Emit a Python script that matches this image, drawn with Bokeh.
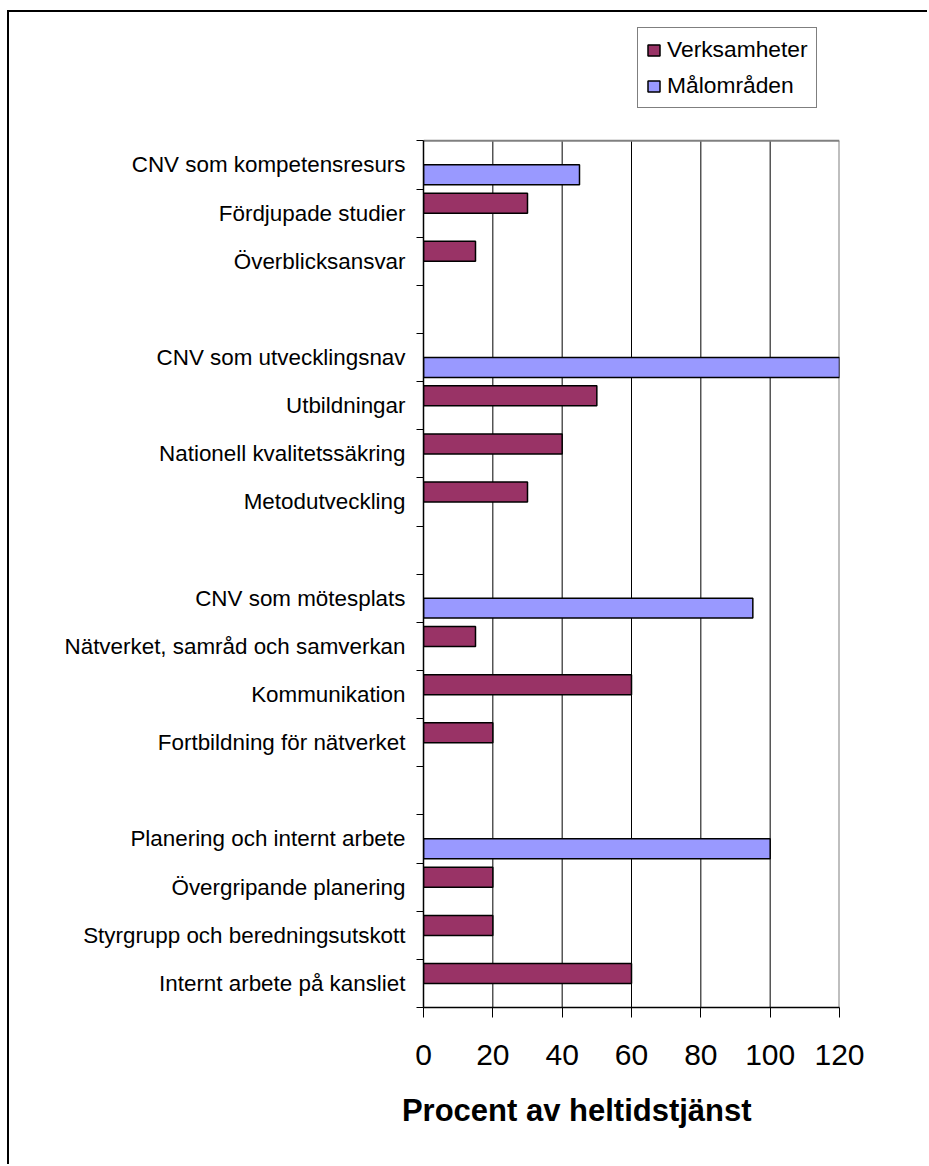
from bokeh.plotting import figure
from bokeh.models import (Range1d, FixedTicker, Legend, LegendItem, Title,
                          ColumnDataSource)
from bokeh.embed import file_html
from bokeh.resources import INLINE

# ---------------- data ----------------
categories = [
    "CNV som kompetensresurs", "Fördjupade studier", "Överblicksansvar", "",
    "CNV som utvecklingsnav", "Utbildningar", "Nationell kvalitetssäkring", "Metodutveckling", "",
    "CNV som mötesplats", "Nätverket, samråd och samverkan", "Kommunikation",
    "Fortbildning för nätverket", "",
    "Planering och internt arbete", "Övergripande planering",
    "Styrgrupp och beredningsutskott", "Internt arbete på kansliet",
]
verksamheter = [0, 30, 15, 0, 0, 50, 40, 30, 0, 0, 15, 60, 20, 0, 0, 20, 20, 60]
malomraden = [45, 0, 0, 0, 120, 0, 0, 0, 0, 95, 0, 0, 0, 0, 100, 0, 0, 0]
series_names = ["Verksamheter", "Målområden"]
series_colors = ["#993366", "#9999FF"]
x_ticks = [0, 20, 40, 60, 80, 100, 120]
x_title = "Procent av heltidstjänst"

FONT = "Liberation Sans"
n = len(categories)
ypos = [n - 1 - i for i in range(n)]
y_lo, y_hi = -0.5, n - 0.5          # extent of the category rows
x_hi = x_ticks[-1]

# extra headroom above the rows holds the legend (inside the frame)
p = figure(width=920, height=1154, title=None,
           x_range=Range1d(0, x_hi), y_range=Range1d(y_lo, y_hi + 2.5),
           output_backend="svg", toolbar_location=None,
           min_border_left=414, min_border_right=90,
           min_border_top=8, min_border_bottom=159)
p.margin = (10, 0, 0, 7)
p.styles = {"border-top": "2px solid black", "border-left": "2px solid black"}
p.background_fill_color = "white"
p.border_fill_color = "white"
p.outline_line_color = None
p.xgrid.grid_line_color = None
p.ygrid.grid_line_color = None

# vertical grid lines and plot-area border (top + right, grey)
inner = x_ticks[1:-1]
p.segment(x0=inner, y0=[y_lo] * len(inner), x1=inner, y1=[y_hi] * len(inner),
          line_color="black", line_width=1)
p.segment(x0=[0, x_hi], y0=[y_hi, y_lo], x1=[x_hi, x_hi], y1=[y_hi, y_hi],
          line_color="#808080", line_width=2)

renderers = []
for vals, off, col in [(verksamheter, 0.205, series_colors[0]),
                       (malomraden, -0.205, series_colors[1])]:
    ys = [y + off for y, v in zip(ypos, vals) if v > 0]
    xs = [v for v in vals if v > 0]
    src = ColumnDataSource(dict(y=ys, right=xs))
    r = p.hbar(y="y", left=0, right="right", height=0.415, source=src,
               fill_color=col, line_color="black", line_width=1.5)
    renderers.append(r)

# x axis
xa = p.xaxis[0]
xa.ticker = FixedTicker(ticks=x_ticks)
xa.major_label_text_font = FONT
xa.major_label_text_font_size = "30px"
xa.major_label_text_color = "black"
xa.major_tick_out = 10
xa.major_tick_in = 0
xa.minor_tick_out = 0
xa.minor_tick_in = 0
xa.major_tick_line_color = "black"
xa.axis_line_color = "black"
xa.axis_line_width = 1.5
xa.major_label_standoff = 27

# y axis: labels at centres, tick marks at category boundaries
ya = p.yaxis[0]
ya.bounds = (y_lo, y_hi)
ya.ticker = FixedTicker(ticks=ypos, minor_ticks=[k + 0.5 for k in range(-1, n)])
ya.major_label_overrides = {y: c for y, c in zip(ypos, categories)}
ya.major_label_text_font = FONT
ya.major_label_text_font_size = "22.4px"
ya.major_label_text_color = "black"
ya.major_tick_out = 0
ya.major_tick_in = 0
ya.minor_tick_out = 7
ya.minor_tick_in = 0
ya.minor_tick_line_color = "black"
ya.axis_line_color = "black"
ya.axis_line_width = 1.5
ya.major_label_standoff = 11

t = Title(text=x_title, align="left", offset=-21.6, standoff=46,
          text_font=FONT, text_font_size="31px", text_font_style="bold",
          text_color="black")
p.add_layout(t, "below")

legend = Legend(items=[LegendItem(label=series_names[0], renderers=[renderers[0]]),
                       LegendItem(label=series_names[1], renderers=[renderers[1]])],
                location=(214, 899), orientation="vertical",
                border_line_color="black", border_line_width=1,
                background_fill_color="white", background_fill_alpha=1,
                padding=8, spacing=9, margin=0,
                glyph_width=15, glyph_height=14, label_standoff=6,
                label_text_font=FONT, label_text_font_size="22.8px",
                label_text_color="black")
p.add_layout(legend, "center")

open("out.html", "w").write(file_html(p, INLINE))
